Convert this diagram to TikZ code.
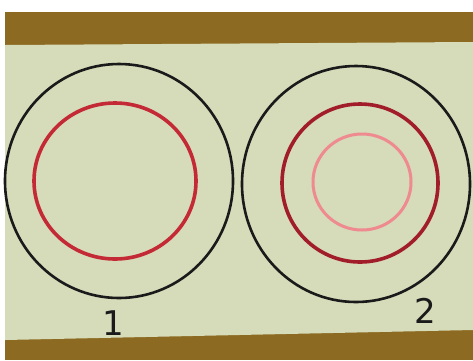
\documentclass[tikz,border=0pt]{standalone}
\usepackage{fontspec}
\setsansfont{DejaVu Sans}
\definecolor{madera}{HTML}{8C6A22}
\definecolor{papel}{HTML}{D6DBB9}
\definecolor{rojo}{HTML}{C42A36}
\definecolor{granate}{HTML}{A21D2A}
\definecolor{rosa}{HTML}{EE8A90}
\definecolor{tinta}{HTML}{1A1A1A}
\begin{document}
\begin{tikzpicture}[x=1pt,y=-1pt,
  negro/.style={draw=tinta,line width=2.6pt},
  aro/.style={draw=#1,line width=3.6pt},
  cifra/.style={font=\sffamily\fontsize{34}{34}\selectfont,text=tinta,inner sep=0pt}]
\useasboundingbox (0,0) rectangle (473,360);
\fill[white] (0,0) rectangle (473,360);
% mesa y hoja
\fill[madera] (5,12) rectangle (473,360);
\fill[papel] (5,45) -- (473,42) -- (473,330) -- (5,340) -- cycle;
% disco 1
\draw[negro] (119,181) ellipse[x radius=114,y radius=117];
\draw[aro=rojo] (115,181) ellipse[x radius=81,y radius=78];
\node[cifra] (uno) at (113,323) {1};
% disco 2
\draw[negro] (356,184) ellipse[x radius=114,y radius=118];
\draw[aro=granate] (360,183) ellipse[x radius=78,y radius=79];
\draw[aro=rosa,line width=3pt] (362,182) ellipse[x radius=49,y radius=48];
\node[cifra] (dos) at (425,311) {2};
\end{tikzpicture}
\end{document}
